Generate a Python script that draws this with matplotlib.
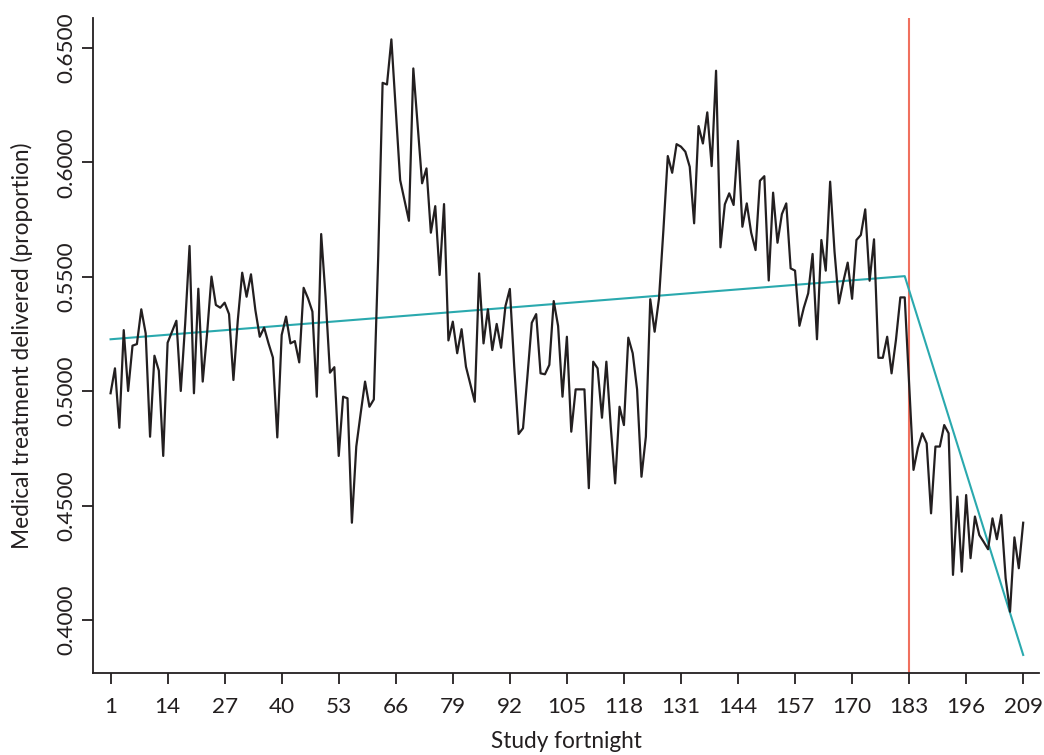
import numpy as np
import matplotlib
matplotlib.use("Agg")
import matplotlib.pyplot as plt

plt.rcParams['font.family'] = ['Lato', 'DejaVu Sans']

# proportion of medical treatment delivered, one value per study fortnight
fortnight = np.arange(1, 210)
proportion = [
    0.4991, 0.5100, 0.4840, 0.5267, 0.5001, 0.5199, 0.5206, 0.5358, 0.5253, 0.4801,
    0.5155, 0.5090, 0.4717, 0.5212, 0.5260, 0.5308, 0.5001, 0.5294, 0.5635, 0.4991,
    0.5448, 0.5042, 0.5253, 0.5501, 0.5377, 0.5365, 0.5387, 0.5337, 0.5049, 0.5311,
    0.5518, 0.5413, 0.5511, 0.5355, 0.5238, 0.5278, 0.5209, 0.5147, 0.4798, 0.5246,
    0.5326, 0.5209, 0.5219, 0.5126, 0.5452, 0.5406, 0.5348, 0.4976, 0.5687, 0.5413,
    0.5081, 0.5105, 0.4717, 0.4976, 0.4969, 0.4425, 0.4758, 0.4903, 0.5042, 0.4932,
    0.4964, 0.5588, 0.6348, 0.6341, 0.6538, 0.6229, 0.5923, 0.5834, 0.5745, 0.6411,
    0.6159, 0.5909, 0.5974, 0.5693, 0.5809, 0.5508, 0.5818, 0.5222, 0.5304, 0.5166,
    0.5271, 0.5107, 0.5030, 0.4954, 0.5515, 0.5209, 0.5358, 0.5180, 0.5294, 0.5190,
    0.5372, 0.5447, 0.5107, 0.4813, 0.4838, 0.5063, 0.5299, 0.5337, 0.5078, 0.5074,
    0.5115, 0.5394, 0.5285, 0.4976, 0.5238, 0.4823, 0.5008, 0.5008, 0.5008, 0.4576,
    0.5129, 0.5100, 0.4884, 0.5129, 0.4845, 0.4597, 0.4932, 0.4852, 0.5234, 0.5166,
    0.5008, 0.4626, 0.4801, 0.5402, 0.5260, 0.5406, 0.5705, 0.6028, 0.5955, 0.6080,
    0.6069, 0.6047, 0.5981, 0.5734, 0.6159, 0.6083, 0.6219, 0.5984, 0.6401, 0.5629,
    0.5817, 0.5865, 0.5814, 0.6094, 0.5719, 0.5821, 0.5693, 0.5617, 0.5920, 0.5940,
    0.5484, 0.5868, 0.5649, 0.5774, 0.5821, 0.5537, 0.5527, 0.5286, 0.5365, 0.5428,
    0.5600, 0.5227, 0.5661, 0.5527, 0.5916, 0.5610, 0.5384, 0.5479, 0.5562, 0.5404,
    0.5661, 0.5683, 0.5795, 0.5483, 0.5664, 0.5146, 0.5146, 0.5238, 0.5078, 0.5224,
    0.5410, 0.5410, 0.5034, 0.4656, 0.4752, 0.4816, 0.4772, 0.4466, 0.4758, 0.4758,
    0.4852, 0.4816, 0.4197, 0.4539, 0.4211, 0.4546, 0.4270, 0.4452, 0.4371, 0.4341,
    0.4309, 0.4444, 0.4353, 0.4459, 0.4182, 0.4036, 0.4361, 0.4226, 0.4425,
]

# segmented regression fit: breakpoints and fitted values
trend_x = [1, 182, 209]
trend_y = [0.5227, 0.5503, 0.3847]

intervention = 183
xticks = list(range(1, 210, 13))
yticks = [0.40, 0.45, 0.50, 0.55, 0.60, 0.65]

fig = plt.figure(figsize=(10.44, 7.55), dpi=100)
ax = fig.add_axes([0.0891, 0.1086, 0.9061, 0.8674])

ax.plot(fortnight, proportion, color='#231f20', lw=1.6, zorder=3)
ax.plot(trend_x, trend_y, color='#2aa9ae', lw=1.5, zorder=2)
ax.axvline(intervention, color='#f0705e', lw=1.5, zorder=1)

ax.set_xlim(-3.0, 212.6)
ax.set_ylim(0.3768, 0.6631)

ax.spines['top'].set_visible(False)
ax.spines['right'].set_visible(False)
for s in ('left', 'bottom'):
    ax.spines[s].set_linewidth(1.3)
    ax.spines[s].set_color('#231f20')

ax.set_xticks(xticks)
ax.set_xticklabels([str(t) for t in xticks])
ax.set_yticks(yticks)
ax.set_yticklabels(['%.4f' % t for t in yticks], rotation=90, va='center')
ax.tick_params(axis='both', length=8, width=1.3, color='#231f20',
               labelsize=16.2, labelcolor='#231f20')
ax.tick_params(axis='x', pad=9)
ax.tick_params(axis='y', pad=4)

ax.set_xlabel('Study fortnight', fontsize=16.3, color='#231f20', labelpad=10)
ax.set_ylabel('Medical treatment delivered (proportion)', fontsize=16.3,
              color='#231f20', labelpad=17)

fig.savefig('out.png', dpi=100)
